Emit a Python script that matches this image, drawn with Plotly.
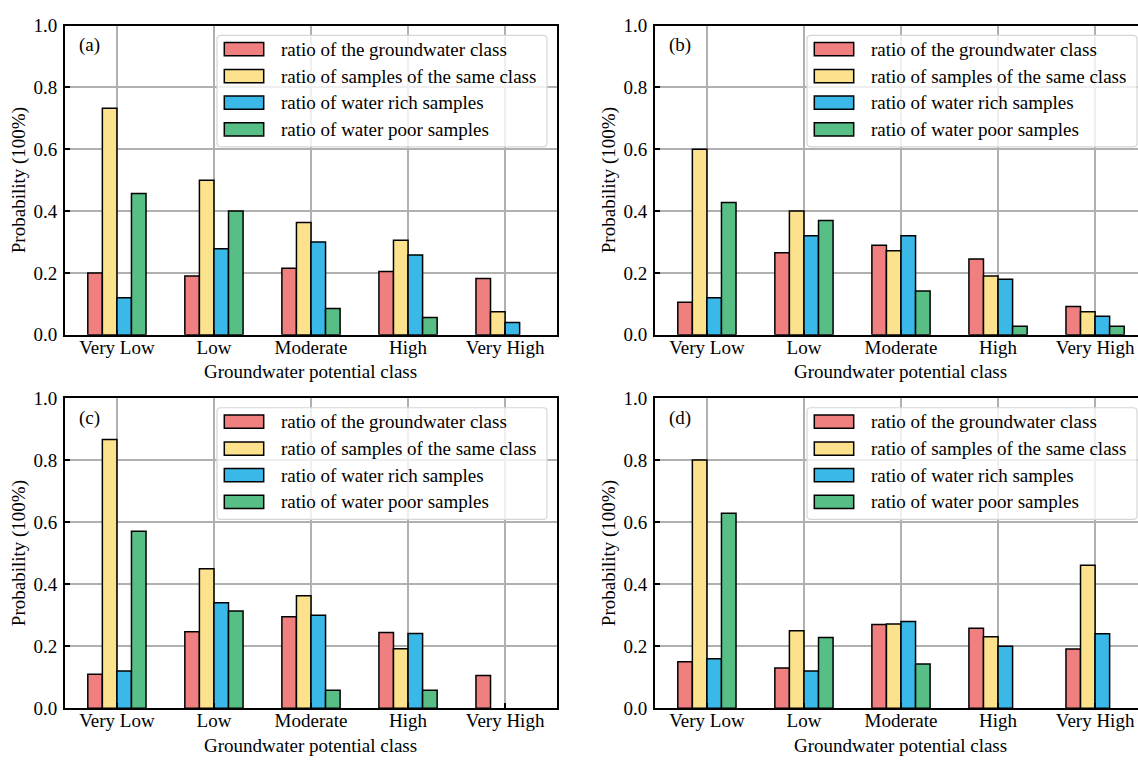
import plotly.graph_objects as go

# ---------------- data ----------------
categories = ["Very Low", "Low", "Moderate", "High", "Very High"]
series_names = [
    "ratio of the groundwater class",
    "ratio of samples of the same class",
    "ratio of water rich samples",
    "ratio of water poor samples",
]
panel_labels = ["(a)", "(b)", "(c)", "(d)"]

a_group = [0.200, 0.190, 0.215, 0.205, 0.182]
a_same = [0.733, 0.500, 0.363, 0.306, 0.075]
a_rich = [0.120, 0.278, 0.300, 0.258, 0.040]
a_poor = [0.457, 0.400, 0.085, 0.056, 0.0]

b_group = [0.105, 0.265, 0.290, 0.245, 0.092]
b_same = [0.600, 0.400, 0.272, 0.190, 0.075]
b_rich = [0.120, 0.320, 0.320, 0.180, 0.060]
b_poor = [0.428, 0.370, 0.142, 0.028, 0.028]

c_group = [0.110, 0.247, 0.295, 0.244, 0.106]
c_same = [0.866, 0.450, 0.363, 0.192, 0.0]
c_rich = [0.120, 0.340, 0.300, 0.241, 0.0]
c_poor = [0.571, 0.314, 0.058, 0.058, 0.0]

d_group = [0.150, 0.130, 0.270, 0.258, 0.191]
d_same = [0.800, 0.250, 0.272, 0.231, 0.461]
d_rich = [0.160, 0.120, 0.280, 0.200, 0.240]
d_poor = [0.629, 0.228, 0.143, 0.0, 0.0]

panels = [
    [a_group, a_same, a_rich, a_poor],
    [b_group, b_same, b_rich, b_poor],
    [c_group, c_same, c_rich, c_poor],
    [d_group, d_same, d_rich, d_poor],
]

colors = ["#F08080", "#FCE28C", "#3AB8E8", "#57BE86"]
y_ticks = [0.0, 0.2, 0.4, 0.6, 0.8, 1.0]

# ---------------- layout geometry (pixels) ----------------
W, H = 1138, 765
FONT = "Liberation Serif, Times New Roman, serif"
FS = 19
PX_PER_UNIT = 97.04
X_START = -0.535
# (left, right, top, bottom) in pixels
boxes = [
    (65, 557, 16, 334),
    (655, 1138, 16, 334),
    (65, 557, 399, 718),
    (655, 1138, 399, 718),
]


def px(x):
    return x / W


def py(y):
    return 1 - y / H


def rounded_rect(x0, y0, x1, y1, r):
    pts = [
        f"M{px(x0 + r)},{py(y0)}",
        f"L{px(x1 - r)},{py(y0)}",
        f"Q{px(x1)},{py(y0)} {px(x1)},{py(y0 + r)}",
        f"L{px(x1)},{py(y1 - r)}",
        f"Q{px(x1)},{py(y1)} {px(x1 - r)},{py(y1)}",
        f"L{px(x0 + r)},{py(y1)}",
        f"Q{px(x0)},{py(y1)} {px(x0)},{py(y1 - r)}",
        f"L{px(x0)},{py(y0 + r)}",
        f"Q{px(x0)},{py(y0)} {px(x0 + r)},{py(y0)}",
        "Z",
    ]
    return " ".join(pts)


fig = go.Figure()
shapes = []
annotations = []
layout_axes = {}

for i, (vals, (L, R, T, B)) in enumerate(zip(panels, boxes)):
    n = i + 1
    xa = "x" if n == 1 else f"x{n}"
    ya = "y" if n == 1 else f"y{n}"
    for s, v in enumerate(vals):
        fig.add_trace(
            go.Bar(
                x=list(range(len(categories))),
                y=[val if val > 0 else None for val in v],
                name=series_names[s],
                marker=dict(color=colors[s], line=dict(color="black", width=1.5)),
                xaxis=xa,
                yaxis=ya,
                showlegend=False,
            )
        )
    x_units = (R - L) / PX_PER_UNIT
    full_right = i in (0, 2)
    layout_axes["xaxis" if n == 1 else f"xaxis{n}"] = dict(
        domain=[px(L), px(R)],
        anchor=ya,
        range=[X_START, X_START + x_units],
        tickvals=list(range(len(categories))),
        ticktext=categories,
        showgrid=True,
        gridcolor="#b0b0b0",
        gridwidth=1.6,
        zeroline=False,
        showline=True,
        linecolor="black",
        linewidth=2,
        mirror=True,
        ticks="inside",
        ticklen=5,
        tickwidth=1.5,
        tickcolor="black",
        ticklabelstandoff=-6,
        tickfont=dict(family=FONT, size=FS, color="black"),
        fixedrange=True,
    )
    layout_axes["yaxis" if n == 1 else f"yaxis{n}"] = dict(
        domain=[py(B), py(T)],
        anchor=xa,
        range=[0, 1.0],
        tickvals=y_ticks,
        ticktext=[f"{t:.1f}" for t in y_ticks],
        showgrid=True,
        gridcolor="#b0b0b0",
        gridwidth=1.6,
        zeroline=False,
        showline=True,
        linecolor="black",
        linewidth=2,
        mirror=full_right,
        ticks="inside",
        ticklen=5,
        tickwidth=1.5,
        tickcolor="black",
        ticklabelstandoff=2,
        tickfont=dict(family=FONT, size=FS, color="black"),
        fixedrange=True,
    )

    full_axis_right = L + (X_START * -1 + 4 + 0.535) * PX_PER_UNIT
    annotations.append(dict(
        x=px((L + full_axis_right) / 2), y=py(B + 38), xref="paper", yref="paper",
        text="Groundwater potential class", showarrow=False,
        xanchor="center", yanchor="middle",
        font=dict(family=FONT, size=FS, color="black"),
    ))
    annotations.append(dict(
        x=px(L - 46), y=py((T + B) / 2), xref="paper", yref="paper",
        text="Probability (100%)", showarrow=False, textangle=-90,
        xanchor="center", yanchor="middle",
        font=dict(family=FONT, size=FS, color="black"),
    ))
    annotations.append(dict(
        x=px(L + 12), y=py(T + 20.5), xref="paper", yref="paper",
        text=panel_labels[i], showarrow=False,
        xanchor="left", yanchor="middle",
        font=dict(family=FONT, size=FS, color="black"),
    ))

    shapes.append(dict(
        type="path", xref="paper", yref="paper",
        path=rounded_rect(L + 152, T + 10, L + 482, T + 124.7, 4),
        fillcolor="rgba(255,255,255,0.8)",
        line=dict(color="#d6d6d6", width=1.2),
        layer="above",
    ))
    centers = [24.3, 52.0, 79.3, 106.7]
    for s in range(4):
        cy = T + centers[s]
        shapes.append(dict(
            type="rect", xref="paper", yref="paper",
            x0=px(L + 159.3), x1=px(L + 198.7),
            y0=py(cy + 6.8), y1=py(cy - 6.8),
            fillcolor=colors[s],
            line=dict(color="black", width=1.5),
            layer="above",
        ))
        annotations.append(dict(
            x=px(L + 214), y=py(cy), xref="paper", yref="paper",
            text=series_names[s], showarrow=False,
            xanchor="left", yanchor="middle",
            font=dict(family=FONT, size=FS, color="black"),
        ))

fig.update_layout(
    width=W,
    height=H,
    margin=dict(l=0, r=0, t=0, b=0),
    paper_bgcolor="white",
    plot_bgcolor="white",
    barmode="group",
    bargap=0.4,
    bargroupgap=0,
    shapes=shapes,
    annotations=annotations,
    font=dict(family=FONT, size=FS, color="black"),
    **layout_axes,
)

fig.write_html(
    "out.html",
    config={"displayModeBar": False},
    post_script=(
        "document.documentElement.style.margin='0';"
        "document.body.style.margin='0';"
        "document.body.style.overflow='hidden';"
        "var d=document.getElementById('{plot_id}');"
        "d.style.position='fixed';d.style.top='0px';d.style.left='0px';"
    ),
)
